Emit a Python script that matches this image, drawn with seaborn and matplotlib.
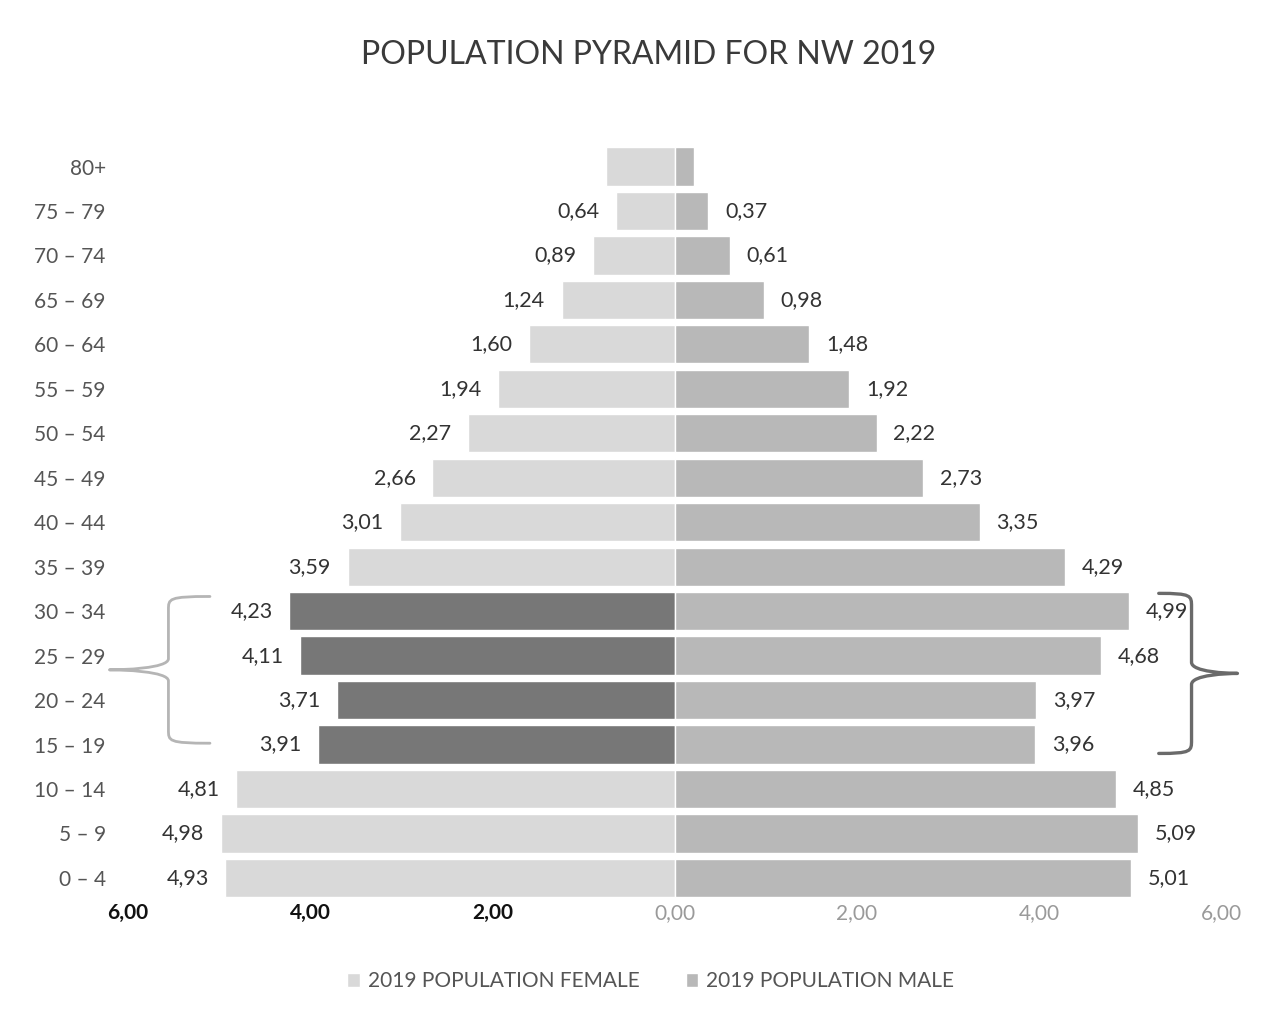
import matplotlib
matplotlib.use("Agg")
import matplotlib.pyplot as plt
import matplotlib.transforms as mtransforms
from matplotlib.path import Path
from matplotlib.patches import PathPatch, Patch
import seaborn as sns
import pandas as pd

# Age groups, top to bottom
ages = ["80+", "75 – 79", "70 – 74", "65 – 69", "60 – 64", "55 – 59", "50 – 54",
        "45 – 49", "40 – 44", "35 – 39", "30 – 34", "25 – 29", "20 – 24",
        "15 – 19", "10 – 14", "5 – 9", "0 – 4"]
# Share of population (%) by sex
female = [0.75, 0.64, 0.89, 1.24, 1.60, 1.94, 2.27, 2.66, 3.01, 3.59,
          4.23, 4.11, 3.71, 3.91, 4.81, 4.98, 4.93]
male = [0.21, 0.37, 0.61, 0.98, 1.48, 1.92, 2.22, 2.73, 3.35, 4.29,
        4.99, 4.68, 3.97, 3.96, 4.85, 5.09, 5.01]
# Age groups singled out on the female side
highlight = ["30 – 34", "25 – 29", "20 – 24", "15 – 19"]
# Age groups drawn without a value label
unlabelled = ["80+"]
xtick_values = [-6, -4, -2, 0, 2, 4, 6]

FEMALE_C = "#d9d9d9"
FEMALE_HL = "#777777"
MALE_C = "#b8b8b8"

df = pd.DataFrame({"age": ages, "female": [-v for v in female], "male": male})

sns.set_theme(style="white")
plt.rcParams["font.family"] = ["Lato", "DejaVu Sans"]

fig = plt.figure(figsize=(12.71, 10.16), dpi=100)
ax = fig.add_axes([0.1007, 0.114, 0.86, 0.744])

f_colors = [FEMALE_HL if a in highlight else FEMALE_C for a in ages]
sns.barplot(data=df, x="female", y="age", hue="age", palette=f_colors,
            order=ages, hue_order=ages, legend=False, width=0.86,
            saturation=1, ax=ax)
sns.barplot(data=df, x="male", y="age", color=MALE_C, order=ages,
            width=0.86, saturation=1, ax=ax)

def fmt(v):
    return f"{abs(v):.2f}".replace(".", ",")

n = len(ages)
f_labels = ["" if a in unlabelled else fmt(v) for a, v in zip(ages, female)]
m_labels = ["" if a in unlabelled else fmt(v) for a, v in zip(ages, male)]
for i, cont in enumerate(ax.containers):
    if i < n:
        # female side: one container per hue level
        ax.bar_label(cont, labels=[f_labels[i]], padding=12, fontsize=15.5,
                     color="#333333")
    else:
        ax.bar_label(cont, labels=m_labels, padding=12, fontsize=15.5,
                     color="#333333")

ax.set_xlim(-6, 6)
ax.set_ylim(n - 0.5, -0.5)
ax.set_xticks(xtick_values)
ax.set_xticklabels([fmt(v) for v in xtick_values])
for v, lab in zip(xtick_values, ax.get_xticklabels()):
    if v < 0:
        lab.set_color("#111111")
        lab.set_fontweight("bold")
    else:
        lab.set_color("#9a9a9a")
    lab.set_fontsize(15)
ax.tick_params(axis="x", length=0, pad=2)
ax.tick_params(axis="y", length=0, pad=16, labelsize=15, labelcolor="#555555")
ax.set_xlabel("")
ax.set_ylabel("")
for s in ax.spines.values():
    s.set_visible(False)

fig.text(0.51, 0.946, "POPULATION PYRAMID FOR NW 2019", ha="center",
         va="center", fontsize=23, color="#3a3a3a")

# Curly braces around the 15–34 age groups
trans = mtransforms.blended_transform_factory(ax.transAxes, ax.transData)
top = ages.index(highlight[0])
bot = ages.index(highlight[-1])

def brace(x_end, x_mid, x_tip, y0, y1, color, lw):
    ym = (y0 + y1) / 2
    dx = x_mid - x_end
    verts = [
        (x_end, y0),
        (x_mid, y0), (x_mid, y0 + 0.05), (x_mid, y0 + 0.3),
        (x_mid, ym - 0.25),
        (x_mid, ym - 0.03), (x_tip - dx * 0.3, ym), (x_tip, ym),
        (x_tip - dx * 0.3, ym), (x_mid, ym + 0.03), (x_mid, ym + 0.25),
        (x_mid, y1 - 0.3),
        (x_mid, y1 - 0.05), (x_mid, y1), (x_end, y1),
    ]
    codes = [Path.MOVETO,
             Path.CURVE4, Path.CURVE4, Path.CURVE4,
             Path.LINETO,
             Path.CURVE4, Path.CURVE4, Path.CURVE4,
             Path.CURVE4, Path.CURVE4, Path.CURVE4,
             Path.LINETO,
             Path.CURVE4, Path.CURVE4, Path.CURVE4]
    patch = PathPatch(Path(verts, codes), transform=trans, fill=False,
                      edgecolor=color, lw=lw, clip_on=False,
                      capstyle="round", joinstyle="round")
    ax.add_patch(patch)

brace(0.075, 0.037, -0.017, top - 0.33, bot - 0.03, "#b5b5b5", 2.0)
brace(0.943, 0.973, 1.015, top - 0.4, bot + 0.2, "#6a6a6a", 2.4)

handles = [Patch(facecolor=FEMALE_C, label="2019 POPULATION FEMALE"),
           Patch(facecolor=MALE_C, label="2019 POPULATION MALE")]
fig.legend(handles=handles, loc="center", bbox_to_anchor=(0.512, 0.034),
           ncol=2, frameon=False, handlelength=0.6, handleheight=0.6,
           handletextpad=0.4, columnspacing=2.2, fontsize=15,
           labelcolor="#555555")

fig.savefig("out.png", dpi=100, facecolor="white")
